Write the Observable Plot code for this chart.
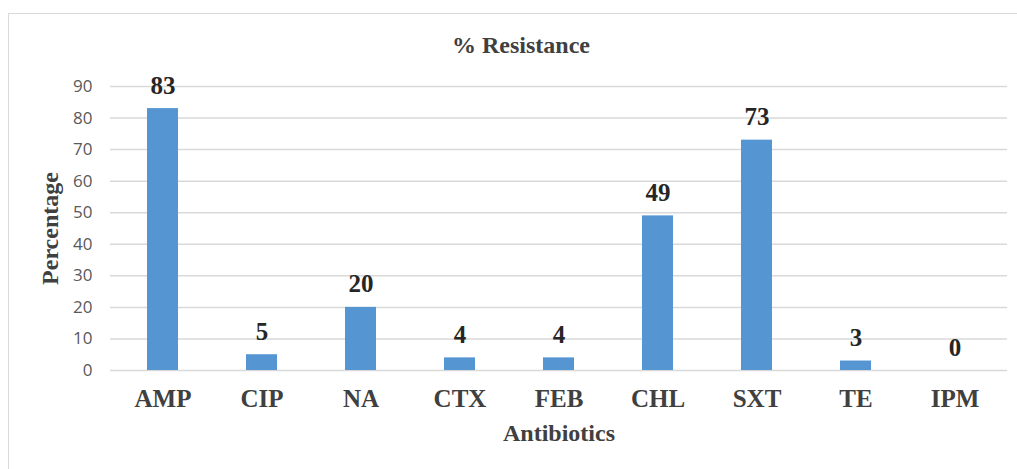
<!DOCTYPE html>
<html><head><meta charset="utf-8">
<script src="https://cdn.jsdelivr.net/npm/d3@7"></script>
<script src="https://cdn.jsdelivr.net/npm/@observablehq/plot@0.6"></script>
<style>
body{margin:0;background:#fff;}
#wrap{position:relative;width:1017px;height:469px;overflow:hidden;}
#border{position:absolute;left:8px;top:13px;width:1040px;height:500px;border:1.5px solid #d9d9d9;box-sizing:border-box;}
#chart{position:absolute;left:0;top:0;}
</style></head>
<body><div id="wrap"><div id="border"></div><div id="chart"></div></div>
<script>
const antibiotics = ["AMP","CIP","NA","CTX","FEB","CHL","SXT","TE","IPM"];
const resistance = [83,5,20,4,4,49,73,3,0];
const yTicks = [0,10,20,30,40,50,60,70,80,90];
const title = "% Resistance";

const data = antibiotics.map((a,i)=>({a, v: resistance[i]}));
const serif = "'Liberation Serif', 'DejaVu Serif', serif";

const chart = Plot.plot({
  width: 1017, height: 469,
  marginLeft: 110, marginRight: 10, marginTop: 86, marginBottom: 99,
  style: {background: "transparent", overflow: "visible"},
  x: {domain: antibiotics, paddingInner: 0.69, paddingOuter: 0.33, label: null},
  y: {domain: [0,90], label: null},
  marks: [
    Plot.gridY(yTicks, {stroke: "#d9d9d9", strokeOpacity: 1, strokeWidth: 1.5}),
    Plot.barY(data, {x: "a", y: "v", fill: "#5596d2"}),
    Plot.axisY(yTicks, {tickSize: 0, tickPadding: 18, fontSize: 17, fill: "#595959", fontFamily: "'Open Sans', sans-serif", label: null}),
    Plot.axisX({tickSize: 0, tickPadding: 19, fontSize: 25, fontWeight: "bold", fill: "#404040", fontFamily: serif, label: null}),
    Plot.text(data, {x: "a", y: "v", text: d => String(d.v), dy: -23, fontSize: 25, fontWeight: "bold", fill: "#262626", fontFamily: serif}),
    Plot.text([title], {frameAnchor: "top", dy: -51, dx: -38, text: d => d, fontSize: 24, fontWeight: "bold", fill: "#404040", fontFamily: serif}),
    Plot.text(["Antibiotics"], {frameAnchor: "bottom", dy: 70, text: d => d, fontSize: 24, fontWeight: "bold", fill: "#404040", fontFamily: serif}),
    Plot.text(["Percentage"], {frameAnchor: "left", dx: -60, rotate: -90, textAnchor: "middle", text: d => d, fontSize: 24, fontWeight: "bold", fill: "#404040", fontFamily: serif})
  ]
});
document.getElementById("chart").appendChild(chart);
</script></body></html>
